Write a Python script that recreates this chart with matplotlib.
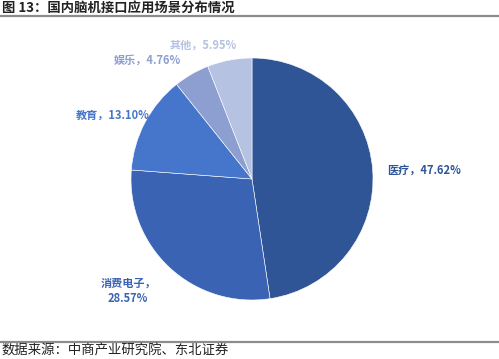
import matplotlib
matplotlib.use('Agg')
import matplotlib.pyplot as plt

plt.rcParams['font.family'] = ['Noto Sans CJK SC', 'DejaVu Sans']

labels = ['医疗', '消费电子', '教育', '娱乐', '其他']
values = [47.62, 28.57, 13.10, 4.76, 5.95]
colors = ['#2F5597', '#3A64B3', '#4676CB', '#8D9FD0', '#B6C2E2']

W, H = 499, 359
fig = plt.figure(figsize=(W / 100, H / 100), dpi=100)

def px(x, y):
    return x / W, 1 - y / H

# title + rules
fig.text(*px(2, 8), '图 13：国内脑机接口应用场景分布情况', fontsize=9.6, fontweight='bold',
         va='center', ha='left', color='#222222')
fig.add_artist(plt.Line2D([0, 1], [1 - 15.5 / H] * 2, color='#8c8c8c', lw=1.6))
fig.add_artist(plt.Line2D([0, 1], [1 - 342 / H] * 2, color='#8c8c8c', lw=1.6))
fig.text(*px(2, 351), '数据来源：中商产业研究院、东北证券', fontsize=9.6, va='center', ha='left',
         color='#222222')

# pie
ax = fig.add_axes([131 / W, 1 - 300 / H, 242 / W, 242 / H])
ax.pie(values, colors=colors, startangle=90, counterclock=False,
       wedgeprops=dict(linewidth=0.4, edgecolor='white'))
ax.set_xlim(-1, 1)
ax.set_ylim(-1, 1)
ax.set_aspect('equal')
ax.axis('off')

# labels
label_pos = {
    '医疗': (424, 170),
    '消费电子': (128, 283),
    '教育': (113, 115),
    '娱乐': (147, 60),
    '其他': (203, 45),
}
for lab, val, col in zip(labels, values, colors):
    x, y = label_pos[lab]
    if lab == '消费电子':
        fig.text(*px(x, y), lab + '，', fontsize=8, fontweight='bold', color=col,
                 ha='center', va='center')
        fig.text(*px(x, y + 15), f'{val:.2f}%', fontsize=8, fontweight='bold', color=col,
                 ha='center', va='center')
    else:
        fig.text(*px(x, y), f'{lab}，{val:.2f}%', fontsize=8, fontweight='bold', color=col,
                 ha='center', va='center')

fig.savefig('out.png', dpi=100)
